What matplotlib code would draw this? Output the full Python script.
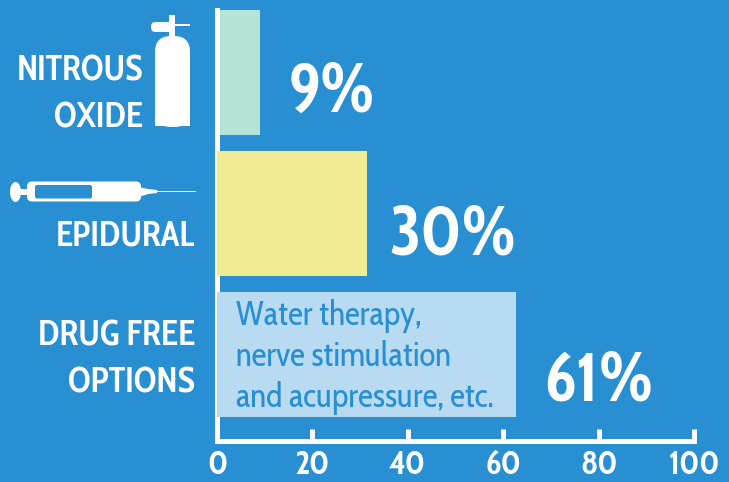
import matplotlib
matplotlib.use('Agg')
import matplotlib.pyplot as plt
from matplotlib.patches import Ellipse, FancyBboxPatch, Polygon, Rectangle

BG = '#288fd2'
FONT = ['Cabin Condensed', 'Lato', 'DejaVu Sans']

# top to bottom
value_labels = ['9%', '30%', '61%']
bar_values = [9, 31.5, 62.7]
bar_colors = ['#b5e3d6', '#f0ec92', '#b9dbf2']
positions = [2, 1, 0]
xticks = [0, 20, 40, 60, 80, 100]
cat_labels = ['NITROUS\nOXIDE', 'EPIDURAL', 'DRUG FREE\nOPTIONS']
note = ['Water therapy,', 'nerve stimulation', 'and acupressure, etc.']

W, H = 729, 482
plt.rcParams['font.family'] = FONT

fig = plt.figure(figsize=(W / 100, H / 100), dpi=100, facecolor=BG)
ax = fig.add_axes([217 / W, 1 - 441 / H, 477 / W, 431 / H], facecolor=BG)

bars = ax.barh(positions, bar_values, height=0.885, color=bar_colors, zorder=3)
bars[0].set_zorder(2)

ax.set_xlim(0, 100)
ax.set_ylim(-0.612, 2.439)
ax.set_yticks([])
ax.set_xticks(xticks)
ax.tick_params(axis='x', direction='in', length=9, width=3.6, color='white',
               labelcolor='white', labelsize=24, pad=6)
for t in ax.get_xticklabels():
    t.set_fontweight('bold')
ax.spines['top'].set_visible(False)
ax.spines['right'].set_visible(False)
ax.spines['left'].set_color('white')
ax.spines['bottom'].set_color('white')
ax.spines['left'].set_linewidth(3.6)
ax.spines['bottom'].set_linewidth(3.6)

# percentages next to the bars, they sit a bit below the bar centre
label_x = [15, 36.2, 68.7]
label_drop = [0.156, 0.166, 0.2]
for x, y, d, s in zip(label_x, positions, label_drop, value_labels):
    ax.text(x, y - d, s, color='white', fontsize=49, fontweight='bold',
            va='center', ha='left', zorder=4)

# overlay in pixel coordinates for labels and icons
ov = fig.add_axes([0, 0, 1, 1], facecolor='none')
ov.set_xlim(0, W)
ov.set_ylim(H, 0)
ov.axis('off')

for s, x, y in zip(cat_labels, [143, 195, 195], [95, 236, 360]):
    ov.text(x, y, s, color='white', fontsize=25, fontweight='bold', ha='right',
            va='center', linespacing=1.43, multialignment='right')
for s, y in zip(note, [316, 357, 398]):
    ov.text(236, y, s, color=BG, fontsize=24, ha='left', va='center')

# gas cylinder
ov.add_patch(FancyBboxPatch((155, 36), 35, 91, boxstyle='round,pad=0,rounding_size=16',
                            fc='white', ec='none'))
ov.add_patch(Rectangle((155, 60), 35, 66, fc='white', ec='none'))
ov.add_patch(Rectangle((169, 15), 6, 22, fc='white', ec='none'))
ov.add_patch(FancyBboxPatch((151, 22), 21, 10, boxstyle='round,pad=0,rounding_size=4.5',
                            fc='white', ec='none'))
ov.add_patch(Rectangle((172, 24), 18, 2, fc='white', ec='none'))

# syringe
ov.add_patch(Ellipse((15.5, 192), 11, 20, fc='white', ec='none'))
ov.add_patch(Rectangle((20, 189), 10, 6, fc='white', ec='none'))
ov.add_patch(FancyBboxPatch((27, 181.5), 114, 20, boxstyle='round,pad=0,rounding_size=5',
                            fc='white', ec='none'))
ov.add_patch(FancyBboxPatch((35, 185), 57, 13.5, boxstyle='round,pad=0,rounding_size=2',
                            fc=BG, ec='none'))
ov.add_patch(Polygon([(139, 187), (148, 189), (157, 190), (157, 193), (148, 194), (139, 197)],
                     fc='white', ec='none'))
ov.add_patch(Rectangle((157, 190.5), 39, 1.2, fc='white', ec='none'))

fig.savefig('out.png', dpi=100, facecolor=BG)
plt.close()
